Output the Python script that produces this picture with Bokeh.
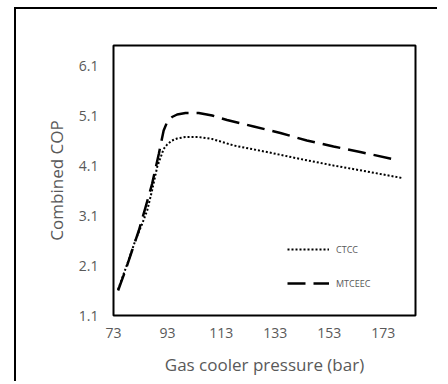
from bokeh.plotting import figure
from bokeh.models import FixedTicker, Legend, LegendItem, Range1d
from bokeh.embed import file_html
from bokeh.resources import INLINE

# Data
ctcc_x = [74.7, 78.1, 81.1, 83.6, 85.5, 87.3, 89.2, 91.6, 92.9, 94.7, 96.6, 99.7, 104.6, 109.6, 117.6, 129.9, 142.3, 154.6, 167.0, 180.0]
ctcc_y = [1.62, 2.13, 2.60, 2.93, 3.20, 3.60, 4.07, 4.43, 4.52, 4.60, 4.64, 4.67, 4.67, 4.63, 4.50, 4.37, 4.23, 4.10, 3.98, 3.85]

mtceec_x = [74.7, 77.4, 79.9, 82.4, 84.9, 87.3, 89.8, 91.6, 92.9, 94.7, 96.6, 99.7, 104.6, 109.6, 115.1, 125.0, 134.9, 144.7, 154.6, 164.5, 176.5]
mtceec_y = [1.60, 2.00, 2.40, 2.80, 3.27, 3.73, 4.33, 4.80, 4.97, 5.07, 5.12, 5.15, 5.15, 5.10, 5.01, 4.88, 4.75, 4.60, 4.48, 4.37, 4.23]

x_ticks = [73, 93, 113, 133, 153, 173]
y_ticks = [1.1, 2.1, 3.1, 4.1, 5.1, 6.1]
series_names = ["CTCC", "MTCEEC"]

GREY = "#595959"
FONT = "Open Sans"

p = figure(width=428, height=374, output_backend="svg", toolbar_location=None,
           x_range=Range1d(73, 185), y_range=Range1d(1.1, 6.5),
           min_border_left=97, min_border_right=29, min_border_top=36, min_border_bottom=68)
p.styles = {"margin-left": "14px", "margin-top": "7px",
            "border-top": "2px solid #000000", "border-left": "2px solid #000000",
            "clip-path": "inset(0px 5px 0px 0px)"}
p.border_fill_color = "white"
p.background_fill_color = "white"
p.outline_line_color = "black"
p.outline_line_width = 2
p.xgrid.visible = False
p.ygrid.visible = False

for ax in (p.xaxis[0], p.yaxis[0]):
    ax.axis_line_color = None
    ax.major_tick_line_color = None
    ax.minor_tick_line_color = None
    ax.major_tick_in = 0
    ax.major_tick_out = 0
    ax.major_label_text_color = GREY
    ax.major_label_text_font = FONT
    ax.major_label_text_font_size = "14px"
    ax.axis_label_text_color = GREY
    ax.axis_label_text_font = FONT
    ax.axis_label_text_font_size = "17px"
    ax.axis_label_text_font_style = "normal"

p.xaxis.ticker = FixedTicker(ticks=x_ticks)
p.yaxis.ticker = FixedTicker(ticks=y_ticks)
p.xaxis.axis_label = "Gas cooler pressure (bar)"
p.yaxis.axis_label = "Combined COP"
p.xaxis.major_label_standoff = 12
p.yaxis.major_label_standoff = 15
p.xaxis.axis_label_standoff = 12
p.yaxis.axis_label_standoff = 8

r1 = p.line(ctcc_x, ctcc_y, line_color="black", line_width=2, line_dash="2 2")
r2 = p.line(mtceec_x, mtceec_y, line_color="black", line_width=2.5, line_dash="18 8")

legend = Legend(items=[LegendItem(label=series_names[0], renderers=[r1]),
                       LegendItem(label=series_names[1], renderers=[r2])],
                location=(174, 22), padding=0, margin=0, spacing=14,
                glyph_width=42, glyph_height=20, label_height=20, label_standoff=7,
                border_line_color=None, background_fill_alpha=0,
                label_text_font=FONT, label_text_font_size="9px", label_text_color=GREY)
p.add_layout(legend)

open("out.html", "w").write(file_html(p, INLINE))
